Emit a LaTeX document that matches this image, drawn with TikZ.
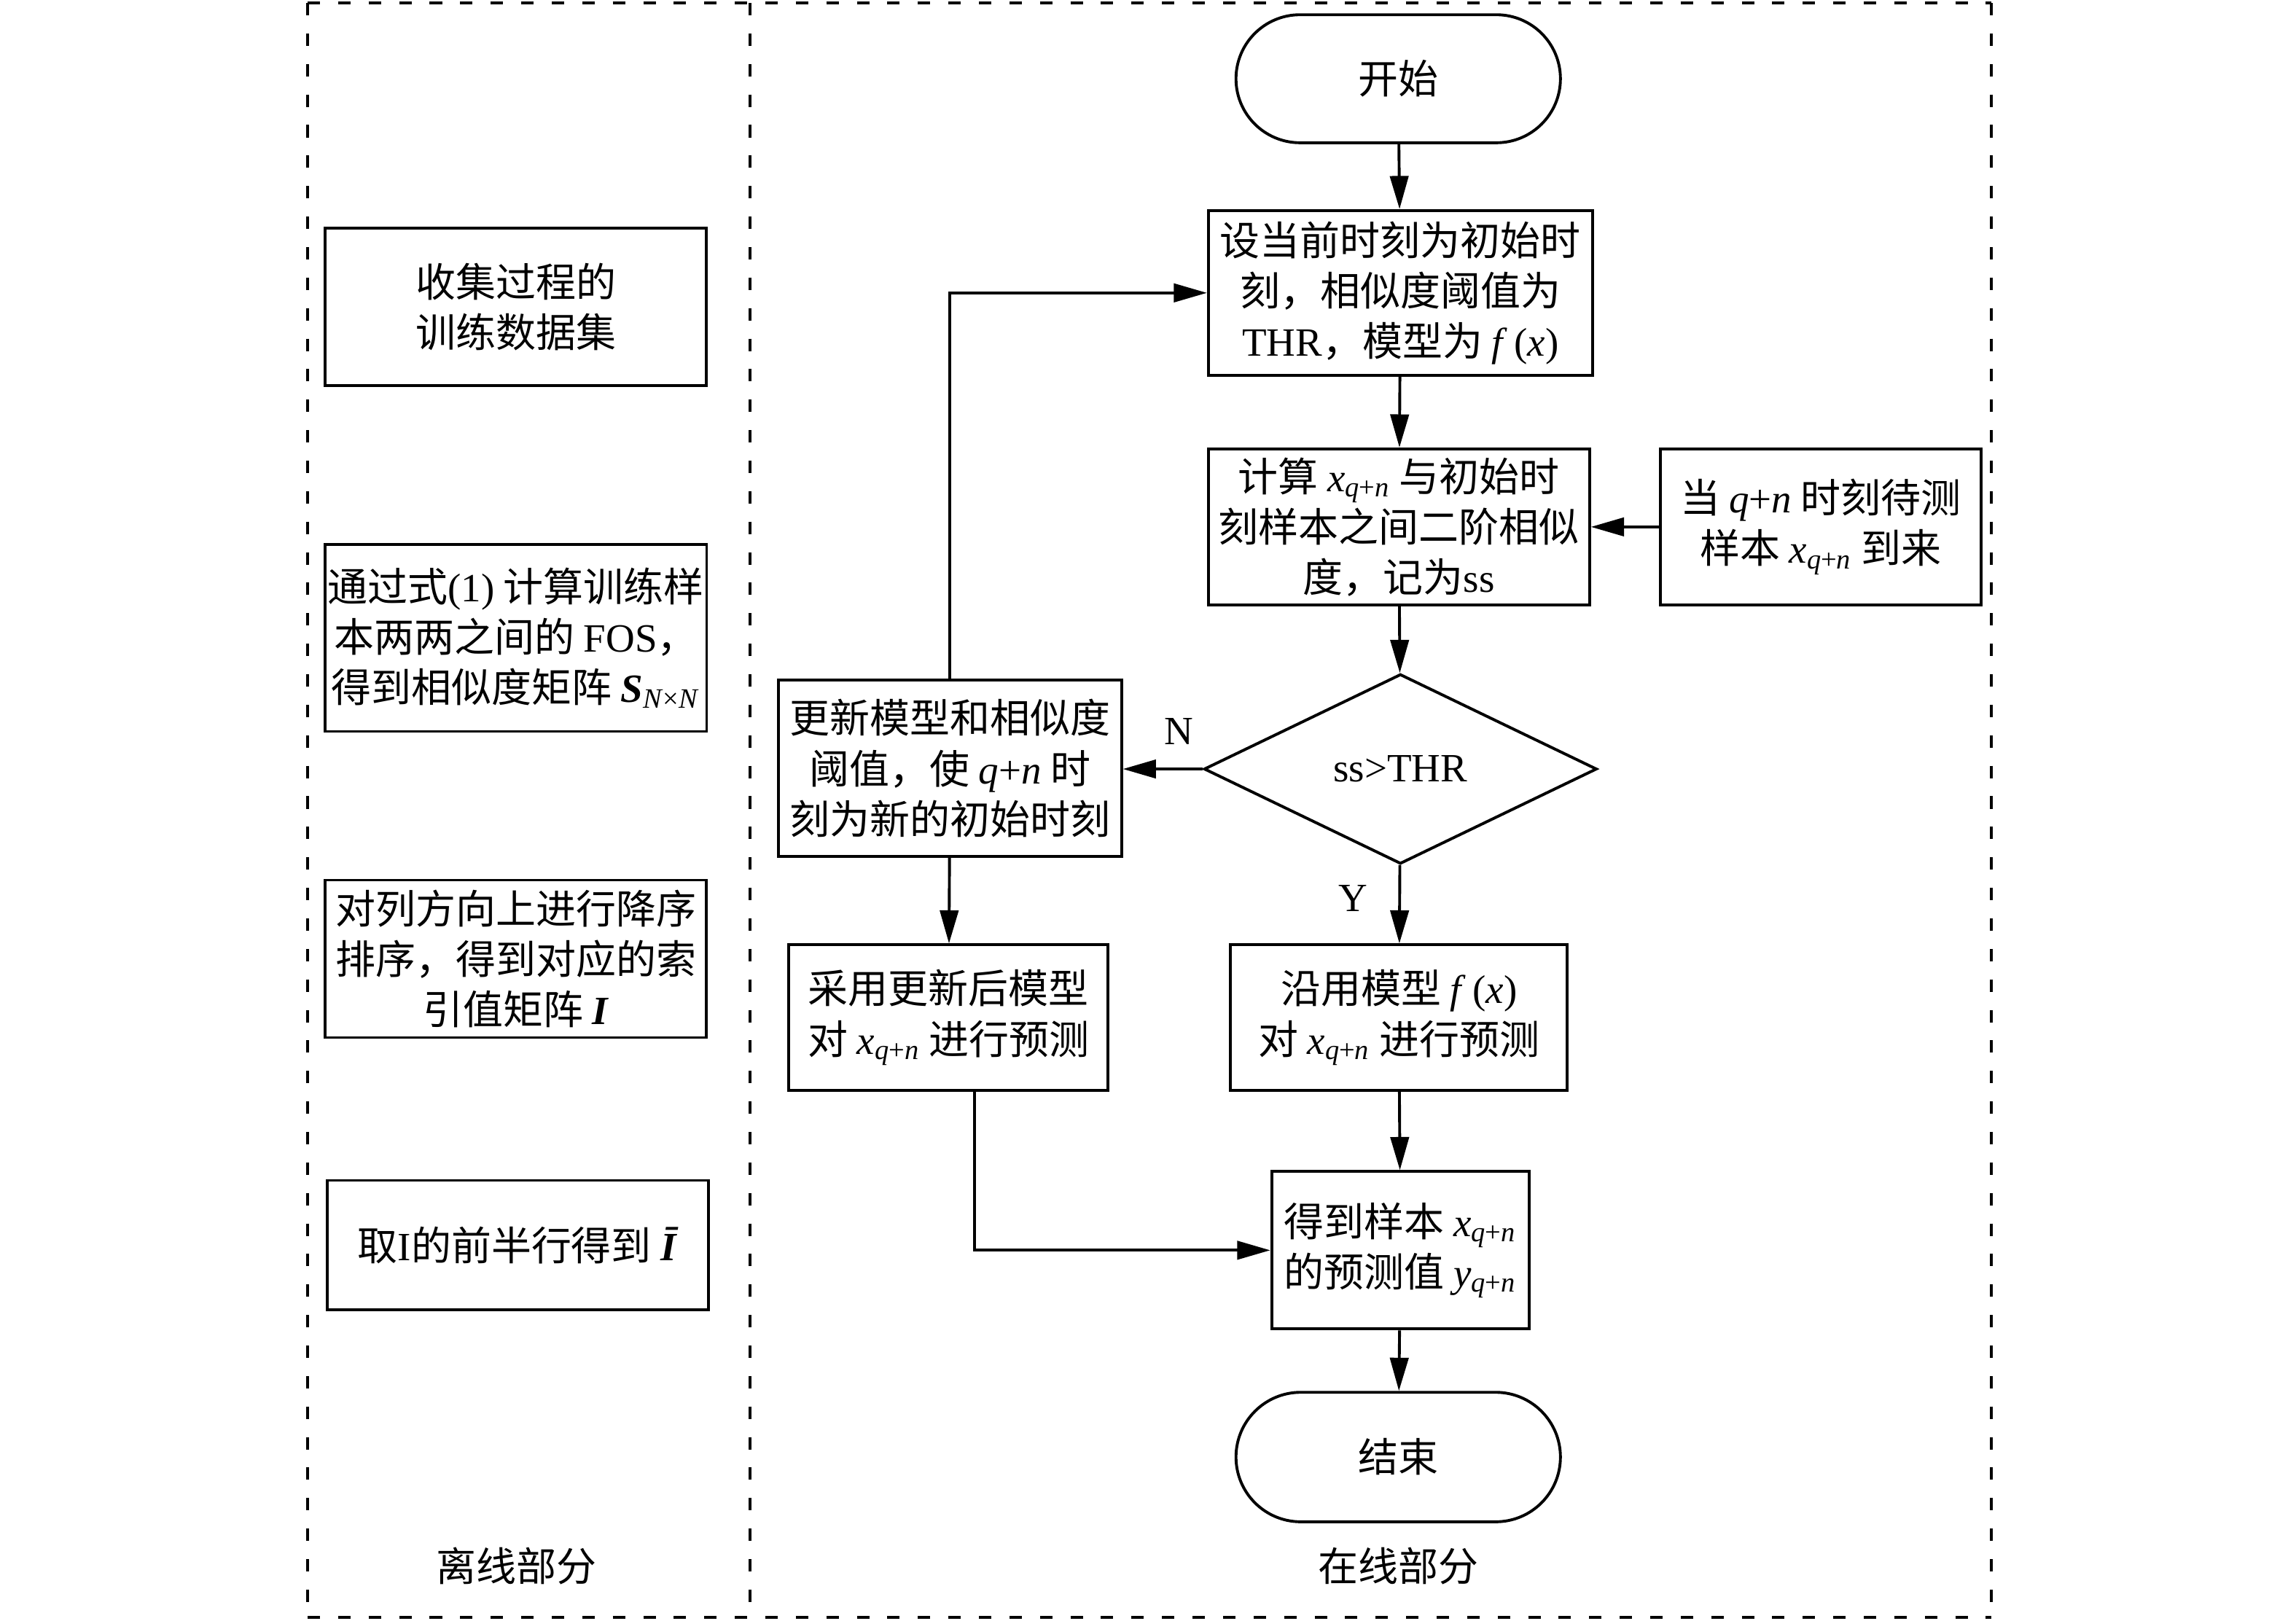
\documentclass[tikz,border=0pt]{standalone}
\usepackage{fontspec}
\setmainfont{Noto Sans CJK SC}
\newfontfamily\lat{Liberation Serif}
\usepackage{tikz}
\usetikzlibrary{arrows.meta}
\usetikzlibrary{shapes.misc}
\usetikzlibrary{shapes.geometric}
\newcommand{\tm}[1]{{\lat #1}}
\newcommand{\qn}{\tm{\textit{q}+\textit{n}}}
\newcommand{\xqn}{\tm{\textit{x}\textsubscript{\textit{q}+\textit{n}}}}
\newcommand{\yqn}{\tm{\textit{y}\textsubscript{\textit{q}+\textit{n}}}}
\newcommand{\fx}{\tm{\textit{f}\,(\textit{x})}}
\newcommand{\txtfont}{\fontsize{15.5}{19.5}\selectfont}
\tikzset{
    wh/.style 2 args={minimum width=#1cm, minimum height=#2cm},
    common/.style={draw, line width=1.1pt, align=center, inner sep=1pt, font=\txtfont},
    stepbox/.style={common, rectangle},
    term/.style={common, rounded rectangle},
    decide/.style={common, diamond, inner sep=0pt},
    tag/.style={font=\txtfont},
    flow/.style={line width=1.1pt, -{Triangle[length=4.5mm, width=2.5mm]}},
    part/.style={line width=1pt, dash pattern=on 4.8pt off 7pt}
}
\begin{document}
\begin{tikzpicture}[x=0.02cm, y=-0.02cm]
    \useasboundingbox (0,0) rectangle (1560,1101.4);

    \draw[part] (209,2) -- (1353,2) (209,1099) -- (1353,1099);
    \draw[part] (209,2) -- (209,1099) (509.5,2) -- (509.5,1099) (1353,2) -- (1353,1099);

    \path
        (350.5,208.5) node[stepbox, wh={5.18}{2.14}] (collect) {收集过程的\\训练数据集}
        (350.5,433.5) node[stepbox, wh={5.18}{2.54}] (fos) {通过式\tm{(1)} 计算训练样\\本两两之间的 \tm{FOS}，\\得到相似度矩阵 \tm{\textbf{\textit{S}}\textsubscript{\textit{N}×\textit{N}}}}
        (350.5,651.5) node[stepbox, wh={5.18}{2.14}] (sort) {对列方向上进行降序\\排序，得到对应的索\\引值矩阵 \tm{\textbf{\textit{I}}}}
        (352,846) node[stepbox, wh={5.18}{1.76}] (half) {取\tm{I}的前半行得到 \tm{\textbf{\textit{\={I}}}}}
        (351,1064) node[tag] (offline) {离线部分};

    \path
        (950,53.5) node[term, wh={4.48}{1.74}] (start) {开始}
        (951.5,199) node[stepbox, wh={5.22}{2.24}] (init) {设当前时刻为初始时\\刻，相似度阈值为\\\tm{THR}，模型为 \fx}
        (950.5,358) node[stepbox, wh={5.18}{2.12}] (sim) {计算 \xqn\ 与初始时\\刻样本之间二阶相似\\度，记为\tm{ss}}
        (1237,358) node[stepbox, wh={4.36}{2.12}] (arrive) {当 \qn\ 时刻待测\\样本 \xqn\ 到来}
        (951.5,522.5) node[decide, wh={5.34}{2.58}] (check) {\tm{ss>THR}}
        (645.5,522) node[stepbox, wh={4.66}{2.4}] (update) {更新模型和相似度\\阈值，使 \qn\ 时\\刻为新的初始时刻}
        (644.5,691.5) node[stepbox, wh={4.34}{1.98}] (predold) {采用更新后模型\\对 \xqn\ 进行预测}
        (950.5,691.5) node[stepbox, wh={4.58}{1.98}] (predkeep) {沿用模型 \fx\\对 \xqn\ 进行预测}
        (951.5,849.5) node[stepbox, wh={3.5}{2.14}] (result) {得到样本 \xqn\\的预测值 \yqn}
        (950,990) node[term, wh={4.48}{1.76}] (stop) {结束}
        (950,1064) node[tag] (online) {在线部分};

    \draw[flow] (start) -- (init);
    \draw[flow] (init) -- (sim);
    \draw[flow] (arrive) -- (sim);
    \draw[flow] (sim) -- (check);
    \draw[flow] (check.west) -- node[tag, pos=0.3, above=2mm] {\tm{N}} (check.west -| update.east);
    \draw[flow] (check) -- node[tag, pos=0.42, left=3mm] {\tm{Y}} (predkeep);
    \draw[flow] (update.north) |- (init.west);
    \draw[flow] (update) -- (predold);
    \draw[flow] ([xshift=0.35cm]predold.south) |- (result.west);
    \draw[flow] (predkeep) -- (result);
    \draw[flow] (result) -- (stop);
\end{tikzpicture}
\end{document}
